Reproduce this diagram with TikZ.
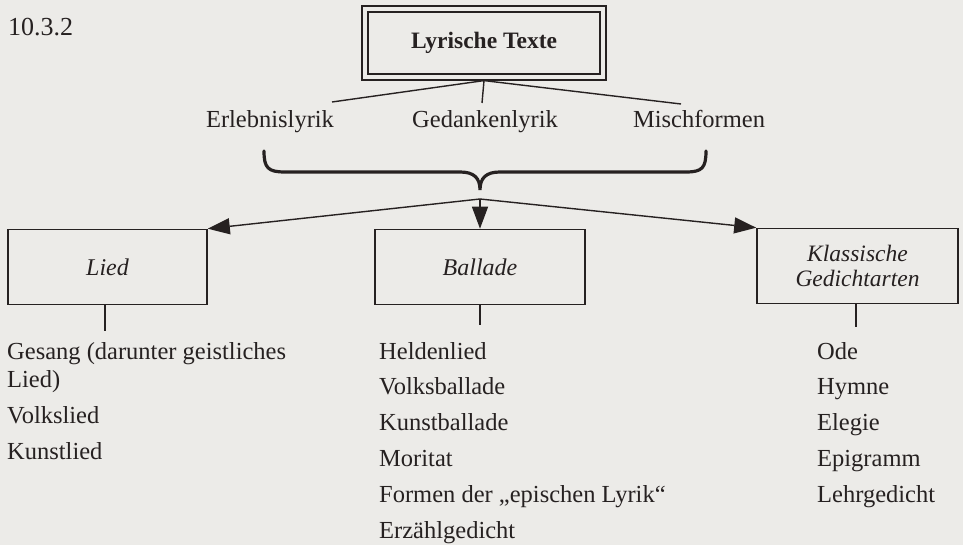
\documentclass[tikz,border=0pt]{standalone}
\usepackage{fontspec}
\setmainfont{Liberation Serif}
\usetikzlibrary{arrows.meta}
\definecolor{paper}{RGB}{236, 235, 232}
\definecolor{ink}{RGB}{38, 33, 33}

\begin{document}
\begin{tikzpicture}[x=1pt, y=-1pt, ink,
    every node/.style={font=\fontsize{24.5}{29}\selectfont, inner sep=0pt, text=ink},
    box/.style={draw, line width=1.6pt, minimum height=75pt, align=center,
        font=\fontsize{24}{25}\itshape\selectfont},
    link/.style={line width=1.4pt},
    arr/.style={link, -{Triangle[length=22pt, width=16pt]}},
    item/.style={anchor=base west}]
    \fill[paper] (0,0) rectangle (963,545);
    \useasboundingbox (0,0) rectangle (963,545);

    \node[item, font=\fontsize{26}{30}\selectfont] (num) at (8,36) {10.3.2};

    % top box
    \node[draw, line width=1.6pt, double=paper, double distance=4pt, outer sep=3.6pt,
        minimum width=238pt, minimum height=68pt, font=\fontsize{23.5}{28}\bfseries\selectfont]
        (lyrik) at (484,43) {Lyrische Texte};

    \coordinate (top-l) at (332,102);
    \coordinate (top-m) at (482,103);
    \coordinate (top-r) at (681,104);
    \draw[link] (lyrik.south) -- (top-l);
    \draw[link] (lyrik.south) -- (top-m);
    \draw[link] (lyrik.south) -- (top-r);

    \node[anchor=base] (erleb) at (270,128) {Erlebnislyrik};
    \node[anchor=base] (gedank) at (485,128) {Gedankenlyrik};
    \node[anchor=base] (misch) at (699,128) {Mischformen};

    % brace
    \draw[line width=3.2pt, line cap=round]
        (264,151) .. controls (264,168) and (268,172) .. (285,172) -- (460,172)
        .. controls (474,172) and (480,178) .. (480,190) coordinate (tip)
        .. controls (480,178) and (486,172) .. (500,172) -- (686,172)
        .. controls (702,172) and (706,168) .. (706,151);

    % the three kinds
    \node[box, minimum width=199pt] (lied) at (107.5,267) {Lied};
    \node[box, minimum width=210pt] (ballade) at (480,267) {Ballade};
    \node[box, minimum width=201pt, font=\fontsize{23.5}{25}\itshape\selectfont]
        (klass) at (857.5,266) {Klassische\\Gedichtarten};

    \coordinate (junc) at (480,199);
    \draw[arr] (junc) -- (lied.north east);
    \draw[arr] (junc) -- (ballade.north);
    \draw[arr] (junc) -- (klass.north west);

    \coordinate (lied-end) at (105,331);
    \coordinate (ballade-end) at (480,325);
    \coordinate (klass-end) at (856,327);
    \draw[link] (lied.south -| lied-end) -- (lied-end);
    \draw[link] (ballade.south) -- (ballade-end);
    \draw[link] (klass.south -| klass-end) -- (klass-end);

    % lists
    \foreach \y/\t in {359/{Gesang (darunter geistliches}, 387/{Lied)}, 423/Volkslied, 459/Kunstlied} {
        \node[item] (l-\y) at (7,\y) {\t};
    }
    \foreach \t [count=\i] in {Heldenlied, Volksballade, Kunstballade, Moritat,
        Formen der „epischen Lyrik“, Erzählgedicht} {
        \node[item] (b-\i) at (379,{359+35.8*(\i-1)}) {\t};
    }
    \foreach \t [count=\i] in {Ode, Hymne, Elegie, Epigramm, Lehrgedicht} {
        \node[item] (k-\i) at (817,{359+35.8*(\i-1)}) {\t};
    }
\end{tikzpicture}
\end{document}
